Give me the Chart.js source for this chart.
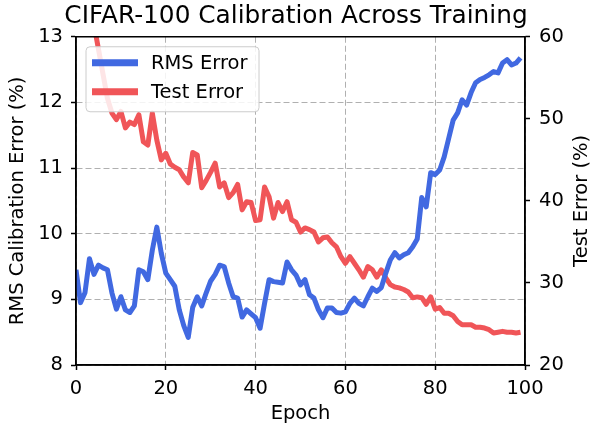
<!DOCTYPE html>
<html>
<head>
<meta charset="utf-8">
<script src="https://cdn.jsdelivr.net/npm/chart.js@4.4.0/dist/chart.umd.min.js"></script>
<style>
  html, body { margin: 0; padding: 0; background: #fff; }
  #wrap { width: 592px; height: 428px; }
</style>
</head>
<body>
<div id="wrap"><canvas id="chart" width="592" height="428"></canvas></div>
<script>
const epochs = Array.from({ length: 100 }, (_, i) => i);

const rmsError = [
  9.45, 8.95, 9.1, 9.62, 9.38, 9.52, 9.48, 9.45, 9.1, 8.85,
  9.04, 8.84, 8.8, 8.9, 9.45, 9.42, 9.3, 9.75, 10.1, 9.7,
  9.4, 9.3, 9.2, 8.84, 8.6, 8.42, 8.88, 9.04, 8.9, 9.1,
  9.28, 9.38, 9.52, 9.5, 9.25, 9.04, 9.02, 8.73, 8.84, 8.78,
  8.72, 8.56, 8.94, 9.3, 9.27, 9.26, 9.25, 9.57, 9.45, 9.37,
  9.22, 9.3, 9.07, 9.02, 8.84, 8.72, 8.87, 8.87, 8.8, 8.79,
  8.81, 8.94, 9.02, 8.94, 8.9, 9.04, 9.17, 9.12, 9.18, 9.4,
  9.6, 9.71, 9.63, 9.68, 9.71, 9.8, 9.92, 10.55, 10.41, 10.93,
  10.9, 10.97, 11.17, 11.45, 11.73, 11.84, 12.04, 11.96, 12.15, 12.3,
  12.35, 12.38, 12.42, 12.47, 12.45, 12.6, 12.65, 12.57, 12.6, 12.68
];

const testError = [
  75, 71, 67, 64, 61.5, 58.5, 55.5, 52.5, 50.7, 49.9,
  50.9, 48.9, 49.6, 49.3, 50.5, 47.2, 46.8, 50.7, 47.4, 45,
  45.8, 44.5, 44.1, 43.8, 42.9, 42.2, 45.9, 45.6, 41.6, 42.5,
  43.5, 44.6, 41.7, 42.2, 40.4, 41, 42, 38.9, 39.9, 39.8,
  37.6, 37.7, 41.7, 40.5, 37.9, 39.8, 38.7, 39.9, 37.7, 37.4,
  36.2, 36.7, 36.5, 36.2, 35, 35.5, 35.6, 34.9, 34.4, 33.2,
  32.4, 33.2, 32.4, 31.6, 30.7, 32, 31.6, 30.7, 31.6, 30.6,
  29.8, 29.5, 29.4, 29.2, 28.9, 28.2, 28.3, 28.2, 27.4, 28.3,
  26.8, 27, 26.3, 26.3, 26, 25.3, 24.9, 24.9, 24.9, 24.6,
  24.6, 24.5, 24.3, 23.9, 24, 24.1, 24, 24, 23.9, 24
];

const FONT = "DejaVu Sans";
const SIZE = 19.5;
const BLUE = "#4169e1";
const RED = "#f05558";

// frame, inside legend and the right-hand axis title (reads bottom to top)
const extras = {
  id: "extras",
  afterDraw(chart) {
    const { ctx, chartArea: a } = chart;
    ctx.save();
    ctx.strokeStyle = "#000";
    ctx.lineWidth = 1.5;
    ctx.strokeRect(a.left, a.top, a.right - a.left, a.bottom - a.top);

    // legend box
    const x = a.left + 10, y = a.top + 10, w = 173, h = 65;
    ctx.beginPath();
    ctx.roundRect(x, y, w, h, 4);
    ctx.fillStyle = "rgba(255,255,255,0.85)";
    ctx.fill();
    ctx.strokeStyle = "#cccccc";
    ctx.lineWidth = 1;
    ctx.stroke();
    ctx.font = SIZE + "px '" + FONT + "'";
    ctx.textBaseline = "middle";
    ctx.fillStyle = "#000";
    chart.data.datasets.forEach((ds, i) => {
      const ly = y + 16 + i * 29;
      ctx.strokeStyle = ds.borderColor;
      ctx.lineWidth = 7;
      ctx.beginPath();
      ctx.moveTo(x + 6, ly);
      ctx.lineTo(x + 52, ly);
      ctx.stroke();
      ctx.fillText(ds.label, x + 65, ly + 1);
    });

    ctx.translate(582, (a.top + a.bottom) / 2);
    ctx.rotate(-Math.PI / 2);
    ctx.textAlign = "center";
    ctx.fillText("Test Error (%)", 0, 0);
    ctx.restore();
  }
};

const tickFont = { family: FONT, size: SIZE };

new Chart(document.getElementById("chart"), {
  type: "line",
  data: {
    labels: epochs,
    datasets: [
      {
        label: "RMS Error",
        data: rmsError,
        yAxisID: "y",
        borderColor: BLUE,
        borderWidth: 5,
        pointRadius: 0,
        tension: 0,
        borderJoinStyle: "round"
      },
      {
        label: "Test Error",
        data: testError,
        yAxisID: "y1",
        borderColor: RED,
        borderWidth: 5,
        pointRadius: 0,
        tension: 0,
        borderJoinStyle: "round"
      }
    ]
  },
  options: {
    responsive: false,
    animation: false,
    events: [],
    layout: { padding: 0 },
    scales: {
      x: {
        type: "linear",
        min: 0,
        max: 100,
        ticks: { stepSize: 20, color: "#000", font: tickFont, padding: 7 },
        grid: { color: "#b0b0b0", tickColor: "#000", tickLength: 5, tickWidth: 1.5 },
        border: { color: "#000", width: 1.5, dash: [6, 3] },
        title: { display: true, text: "Epoch", color: "#000", font: tickFont, padding: { bottom: 2 } },
        afterFit: (s) => { s.height = 63; }
      },
      y: {
        position: "left",
        min: 8,
        max: 13,
        ticks: { stepSize: 1, color: "#000", font: tickFont, padding: 8 },
        grid: { color: "#b0b0b0", tickColor: "#000", tickLength: 5, tickWidth: 1.5 },
        border: { color: "#000", width: 1.5, dash: [6, 3] },
        title: { display: true, text: "RMS Calibration Error (%)", color: "#000", font: tickFont, padding: { top: 6 } },
        afterFit: (s) => { s.width = 76; }
      },
      y1: {
        position: "right",
        min: 20,
        max: 60,
        ticks: { stepSize: 10, color: "#000", font: tickFont, padding: 9 },
        grid: { drawOnChartArea: false, tickColor: "#000", tickLength: 5, tickWidth: 1.5 },
        border: { color: "#000", width: 1.5 },
        afterFit: (s) => { s.width = 67; }
      }
    },
    plugins: {
      legend: { display: false },
      tooltip: { enabled: false },
      title: {
        display: true,
        text: "CIFAR-100 Calibration Across Training",
        color: "#000",
        font: { family: FONT, size: 24.8, weight: "normal" },
        padding: { top: 1.5, bottom: 5.5 }
      }
    }
  },
  plugins: [extras]
});
</script>
</body>
</html>
